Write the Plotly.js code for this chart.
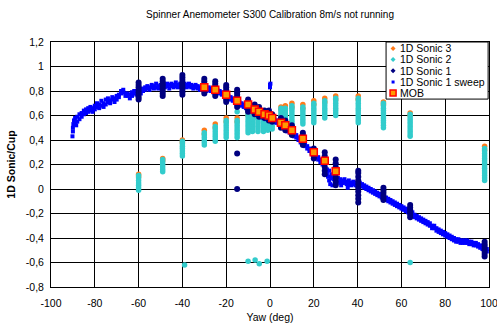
<!DOCTYPE html>
<html>
<head>
<meta charset="utf-8">
<script src="https://cdn.plot.ly/plotly-3.0.1.min.js"></script>
<style>html,body{margin:0;padding:0;background:#fff;}#chart{width:497px;height:330px;}</style>
</head>
<body>
<div id="chart"></div>
<script>
// ---------- data ----------
var xTickVals = [-100,-80,-60,-40,-20,0,20,40,60,80,100];
var xTickText = ["-100","-80","-60","-40","-20","0","20","40","60","80","100"];
var yTickVals = [-0.8,-0.6,-0.4,-0.2,0,0.2,0.4,0.6,0.8,1,1.2];
var yTickText = ["-0,8","-0,6","-0,4","-0,2","0","0,2","0,4","0,6","0,8","1","1,2"];

var seriesNames = ["1D Sonic 3","1D Sonic 2","1D Sonic 1","1D Sonic 1 sweep","MOB"];

// MOB reference points
var mobX = [-30,-25,-20,-15,-10,-7,-5,-2.5,-0.5,1,5,7,10,15,20,25,30];
var mobY = [0.83,0.81,0.77,0.72,0.69,0.65,0.63,0.61,0.60,0.58,0.54,0.52,0.48,0.41,0.30,0.23,0.145];

// 1D Sonic 1 (clusters at fixed yaw: [yaw, values])
var sonic1Clusters = [
  [-60,[0.73,0.75,0.77,0.79,0.81,0.83,0.85,0.87]],
  [-49,[0.76,0.78,0.80,0.82,0.84,0.86,0.88,0.90]],
  [-40,[0.77,0.79,0.81,0.83,0.85,0.87,0.89,0.91,0.93]],
  [-30,[0.78,0.80,0.82,0.84,0.86,0.88,0.90]],
  [-25,[0.76,0.78,0.80,0.82,0.84,0.86,0.88]],
  [-20,[0.71,0.73,0.75,0.77,0.79,0.81,0.83,0.85]],
  [-15,[0.0,0.29,0.67,0.69,0.71,0.73,0.75,0.77,0.79,0.81]],
  [-10,[0.63,0.65,0.67,0.69,0.71,0.73]],
  [-7,[0.61,0.63,0.65,0.67,0.69]],
  [-5,[0.59,0.61,0.63,0.65,0.67]],
  [-2.5,[0.58,0.60,0.62,0.64]],
  [-0.5,[0.56,0.58,0.60,0.62,0.64]],
  [1,[0.55,0.57,0.59,0.61]],
  [5,[0.50,0.52,0.54,0.56,0.58]],
  [7,[0.48,0.50,0.52,0.54,0.56]],
  [10,[0.44,0.46,0.48,0.50,0.52]],
  [15,[0.36,0.38,0.40,0.42,0.44,0.46]],
  [20,[0.25,0.27,0.29,0.31,0.33]],
  [25,[0.12,0.15,0.18,0.21,0.24,0.27,0.30]],
  [30,[0.03,0.06,0.09,0.12,0.15,0.18,0.21,0.24]],
  [40.3,[-0.11,-0.08,-0.05,-0.02,0.01,0.04,0.07,0.10,0.13,0.15]],
  [51.8,[-0.09,-0.07,-0.05,-0.03,-0.01,0.01]],
  [64,[-0.23,-0.21,-0.19,-0.17,-0.15,-0.13]],
  [98,[-0.55,-0.53,-0.51,-0.49,-0.47,-0.45,-0.43]]
];

// 1D Sonic 2
var sonic2Clusters = [
  [-60,[-0.01,0.01,0.03,0.05,0.07,0.09,0.11]],
  [-49,[0.14,0.16,0.18,0.20,0.22,0.24]],
  [-40,[0.27,0.29,0.31,0.33,0.35,0.37,0.39]],
  [-39,[-0.62]],
  [-30,[0.36,0.38,0.40,0.42,0.44,0.46]],
  [-25,[0.39,0.41,0.43,0.45,0.47,0.49,0.51]],
  [-20,[0.42,0.44,0.46,0.48,0.50,0.52,0.54,0.56]],
  [-15,[0.42,0.44,0.46,0.48,0.50,0.52,0.54,0.56,0.63]],
  [-10,[-0.59,0.46,0.48,0.50,0.52,0.54,0.56,0.58,0.60,0.62]],
  [-8,[0.47,0.49,0.51,0.53,0.55,0.57,0.59]],
  [-6.8,[-0.58]],
  [-5.5,[0.47,0.49,0.51,0.53,0.55,0.57,0.59]],
  [-4.9,[-0.61]],
  [-3,[0.47,0.49,0.51,0.53,0.55,0.57,0.59]],
  [-1.3,[-0.59]],
  [-1,[0.48,0.50,0.52,0.54,0.56,0.58]],
  [1,[0.49,0.51,0.53,0.55,0.57]],
  [5,[0.52,0.54,0.56,0.58,0.60,0.62,0.64,0.66]],
  [7,[0.52,0.54,0.56,0.58,0.60,0.62,0.64,0.66]],
  [10,[0.54,0.56,0.58,0.60,0.62,0.64,0.66,0.68]],
  [15,[0.53,0.55,0.57,0.59,0.61,0.63,0.65,0.67]],
  [20,[0.54,0.56,0.58,0.60,0.62,0.64,0.66,0.68,0.70]],
  [25,[0.58,0.60,0.62,0.64,0.66,0.68,0.70,0.72]],
  [30,[0.60,0.62,0.64,0.66,0.68,0.70,0.72,0.74]],
  [40.3,[0.54,0.56,0.58,0.60,0.62,0.64,0.66,0.68,0.70,0.72,0.74]],
  [51.8,[0.50,0.52,0.54,0.56,0.58,0.60,0.62,0.64,0.66,0.68,0.70]],
  [64,[-0.60,0.43,0.45,0.47,0.49,0.51,0.53,0.55,0.57,0.59,0.61]],
  [98,[0.07,0.09,0.11,0.13,0.15,0.17,0.19,0.21,0.23,0.25,0.27,0.29,0.31,0.33]]
];

// 1D Sonic 3 (mostly hidden behind Sonic 2, visible at cluster tops)
var sonic3Clusters = [
  [-60,[0.10,0.12]],[-49,[0.23,0.25]],[-40,[0.38,0.40]],[-30,[0.45,0.48]],
  [-25,[0.50,0.53]],[-20,[0.55,0.58]],[-15,[0.55,0.58]],[-10,[0.60,0.63]],
  [-8,[0.58,0.60]],[-5.5,[0.58,0.60]],[-3,[0.58,0.60]],[-1,[0.57,0.59]],
  [1,[0.56,0.58]],[5,[0.65,0.67]],[7,[0.65,0.68]],[10,[0.67,0.70]],
  [15,[0.66,0.69]],[20,[0.69,0.72]],[25,[0.71,0.74]],[30,[0.73,0.76]],
  [40.3,[0.73,0.76]],[51.8,[0.69,0.71]],[64,[0.60,0.62]],[98,[0.32,0.35]]
];

// 1D Sonic 1 sweep [yaw, value]
var sweepPoints = [
  [-90.2,0.43],[-90,0.47],[-90,0.50],[-89.8,0.53],[-89.5,0.56],[-89,0.58],[-89,0.54],[-88.5,0.52],
  [-88,0.59],[-88,0.55],[-87,0.61],[-87,0.57],[-86,0.62],[-86,0.59],[-85,0.64],[-85,0.61],
  [-84,0.65],[-84,0.62],[-83,0.63],[-83,0.66],[-82,0.67],[-82,0.64],[-81,0.66],[-81,0.63],
  [-80,0.68],[-80,0.65],[-79,0.67],[-79,0.70],[-78,0.66],[-78,0.69],[-77,0.72],[-77,0.68],
  [-76,0.70],[-76,0.67],[-75,0.73],[-75,0.69],[-74,0.71],[-74,0.74],[-73,0.70],[-73,0.72],
  [-72,0.73],[-72,0.75],[-71,0.71],[-71,0.74],[-70,0.76],[-70,0.73],[-69,0.77],[-69,0.75],
  [-68,0.80],[-68,0.78],[-67,0.81],[-67,0.79],[-66,0.78],[-66,0.76],[-65,0.76],[-65,0.78],
  [-64,0.74],[-64,0.77],[-63,0.76],[-63,0.79],[-62,0.78],[-62,0.80],[-61,0.77],[-61,0.80],
  [-60,0.79],[-60,0.81],[-59,0.80],[-59,0.78],[-58,0.82],[-58,0.80],[-57,0.81],[-57,0.83],
  [-56,0.84],[-56,0.82],[-55,0.83],[-55,0.81],[-54,0.85],[-54,0.83],[-53,0.82],[-53,0.84],
  [-52,0.86],[-52,0.83],[-51,0.84],[-51,0.82],[-50,0.85],[-50,0.83],[-49,0.84],[-49,0.82],
  [-48,0.85],[-48,0.83],[-47,0.86],[-47,0.84],[-46,0.82],[-46,0.85],[-45,0.84],[-45,0.86],
  [-44,0.83],[-44,0.85],[-43,0.87],[-43,0.84],[-42,0.85],[-42,0.83],[-41,0.86],[-41,0.84],
  [-40,0.85],[-40,0.87],[-39,0.84],[-39,0.86],[-38,0.83],[-38,0.85],[-37,0.86],[-37,0.84],
  [-36,0.85],[-36,0.83],[-35,0.84],[-35,0.82],[-34,0.85],[-34,0.83],[-33,0.82],[-33,0.84],
  [-32,0.83],[-32,0.81],[-31,0.84],[-31,0.82],[-30,0.83],[-30,0.81],[-29,0.82],[-29,0.80],
  [-28,0.83],[-28,0.81],[-27,0.80],[-27,0.82],[-26,0.81],[-26,0.79],[-25,0.80],[-25,0.82],
  [-24,0.79],[-24,0.81],[-23,0.78],[-23,0.80],[-22,0.79],[-22,0.77],[-21,0.78],[-21,0.76],
  [-20,0.77],[-20,0.75],[-19,0.76],[-19,0.74],[-18,0.75],[-18,0.73],[-17,0.74],[-17,0.72],
  [-16,0.73],[-16,0.71],[-15,0.72],[-15,0.70],[-14,0.71],[-14,0.69],[-13,0.70],[-13,0.68],
  [-12,0.69],[-12,0.67],[-11,0.68],[-11,0.66],[-10,0.67],[-10,0.69],[-9,0.66],[-9,0.64],
  [-8,0.65],[-8,0.63],[-7,0.64],[-7,0.62],[-6,0.63],[-6,0.61],[-5,0.62],[-5,0.60],
  [-4,0.61],[-4,0.59],[-3,0.60],[-3,0.58],[-2,0.59],[-2,0.57],[-1,0.58],[-1,0.60],
  [0,0.57],[0,0.59],[0,0.83],[0,0.85],[0.2,0.86],[1,0.56],[1,0.58],[2,0.55],[2,0.57],
  [3,0.54],[3,0.56],[4,0.53],[4,0.55],[5,0.52],[5,0.54],[6,0.50],[6,0.52],[7,0.49],[7,0.51],
  [8,0.47],[8,0.50],[9,0.46],[9,0.48],[10,0.45],[10,0.47],[11,0.43],[11,0.45],[12,0.42],[12,0.44],
  [13,0.40],[13,0.42],[14,0.38],[14,0.40],[15,0.37],[15,0.39],[16,0.35],[16,0.37],[17,0.33],[17,0.35],
  [18,0.31],[18,0.33],[19,0.29],[19,0.31],[20,0.28],[20,0.30],[21,0.26],[21,0.28],[22,0.24],[22,0.26],
  [23,0.22],[23,0.24],[24,0.20],[24,0.22],[25,0.18],[25,0.21],[26,0.16],[26,0.13],[26.5,0.10],
  [27,0.15],[27,0.07],[27.5,0.04],[28,0.12],[28,0.09],[28.5,0.03],[29,0.11],[29,0.08],
  [30,0.10],[30,0.07],[31,0.09],[31,0.06],[32,0.08],[32,0.05],[32.5,0.03],[33,0.07],[33,0.05],
  [34,0.08],[34,0.05],[35,0.06],[35,0.04],[35.5,0.01],[36,0.07],[36,0.04],[37,0.05],[37,0.03],
  [38,0.06],[38,0.04],[39,0.05],[39,0.03],[40,0.04],[40,0.02],[41,0.05],[41,0.03],[42,0.04],[42,0.02],
  [43,0.03],[43,0.01],[44,0.02],[44,0.00],[45,0.01],[45,-0.01],[46,0.00],[46,-0.02],[47,-0.01],[47,-0.03],
  [48,-0.02],[48,-0.04],[49,-0.03],[49,-0.05],[50,-0.04],[50,-0.06],[51,-0.05],[51,-0.07],[52,-0.06],[52,-0.08],
  [53,-0.07],[53,-0.09],[54,-0.08],[54,-0.10],[55,-0.09],[55,-0.11],[56,-0.10],[56,-0.12],[57,-0.11],[57,-0.13],
  [58,-0.12],[58,-0.14],[59,-0.13],[59,-0.15],[60,-0.14],[60,-0.16],[61,-0.15],[61,-0.17],[62,-0.16],[62,-0.18],
  [63,-0.17],[63,-0.19],[64,-0.18],[64,-0.20],[65,-0.19],[65,-0.21],[66,-0.21],[66,-0.23],[67,-0.22],[67,-0.24],
  [68,-0.23],[68,-0.25],[69,-0.24],[69,-0.26],[70,-0.25],[70,-0.27],[71,-0.26],[71,-0.28],[72,-0.27],[72,-0.29],
  [73,-0.28],[73,-0.30],[74,-0.30],[74,-0.32],[75,-0.30],[75,-0.32],[76,-0.32],[76,-0.34],[77,-0.33],[77,-0.35],
  [78,-0.34],[78,-0.36],[79,-0.35],[79,-0.37],[80,-0.36],[80,-0.38],[81,-0.37],[81,-0.39],[82,-0.38],[82,-0.40],
  [83,-0.39],[83,-0.41],[84,-0.40],[84,-0.42],[85,-0.41],[85,-0.43],[86,-0.41],[86,-0.43],[87,-0.42],[87,-0.44],
  [88,-0.42],[88,-0.44],[89,-0.42],[89,-0.44],[90,-0.42],[90,-0.44],[91,-0.43],[91,-0.45],[92,-0.43],[92,-0.45],
  [93,-0.44],[93,-0.46],[94,-0.44],[94,-0.46],[95,-0.45],[95,-0.47],[96,-0.46],[96,-0.48],[97,-0.47],[97,-0.49],
  [98,-0.48],[98,-0.50],[99,-0.49],[99,-0.51]
];

// ---------- build traces ----------
function flatten(clusters){
  var xs=[],ys=[];
  clusters.forEach(function(c){ c[1].forEach(function(v){ xs.push(c[0]); ys.push(v); }); });
  return {x:xs,y:ys};
}
var s1 = flatten(sonic1Clusters), s2 = flatten(sonic2Clusters), s3 = flatten(sonic3Clusters);

var colSonic3 = '#FF7A1A', colSonic2 = '#33CCCC', colSonic1 = '#000080', colSweep = '#0000FF';
var colMobFill = '#FF9900', colMobLine = '#FF0000';
var FONT = 'Liberation Sans, Arial, Helvetica, sans-serif';

var traces = [
  {type:'scatter',mode:'markers',name:seriesNames[0],x:s3.x,y:s3.y,
   marker:{symbol:'circle',size:5.5,color:colSonic3},hoverinfo:'skip'},
  {type:'scatter',mode:'markers',name:seriesNames[1],x:s2.x,y:s2.y,
   marker:{symbol:'circle',size:5.5,color:colSonic2},hoverinfo:'skip'},
  {type:'scatter',mode:'markers',name:seriesNames[3],
   x:sweepPoints.map(function(p){return p[0];}),y:sweepPoints.map(function(p){return p[1];}),
   marker:{symbol:'square',size:4,color:colSweep},hoverinfo:'skip'},
  {type:'scatter',mode:'markers',name:seriesNames[2],x:s1.x,y:s1.y,
   marker:{symbol:'circle',size:6,color:colSonic1},hoverinfo:'skip'},
  {type:'scatter',mode:'markers',name:seriesNames[4],x:mobX,y:mobY,
   marker:{symbol:'square',size:7,color:colMobFill,line:{color:colMobLine,width:1.5}},hoverinfo:'skip'}
];

// ---------- custom legend (shapes + annotations) ----------
var legX0 = 0.765, legX1 = 0.998, legY0 = 0.767, legY1 = 1.0;
var legRows = [0.9735,0.9286,0.8829,0.8367,0.7918];
var symX = 0.781, txtX = 0.793;
var shapes = [
  {type:'rect',xref:'paper',yref:'paper',x0:legX0,x1:legX1,y0:legY0,y1:legY1,
   fillcolor:'#FFFFFF',line:{color:'#000000',width:1},layer:'above'}
];
function diamondShape(y,color){
  return {type:'path',xref:'paper',yref:'paper',xsizemode:'pixel',ysizemode:'pixel',
    xanchor:symX,yanchor:y,path:'M0,2.5 L2.5,0 L0,-2.5 L-2.5,0 Z',
    fillcolor:color,line:{width:0},layer:'above'};
}
shapes.push(diamondShape(legRows[0],colSonic3));
shapes.push(diamondShape(legRows[1],colSonic2));
shapes.push(diamondShape(legRows[2],colSonic1));
shapes.push({type:'rect',xref:'paper',yref:'paper',xsizemode:'pixel',ysizemode:'pixel',
  xanchor:symX,yanchor:legRows[3],x0:-1.5,x1:1.5,y0:-1.5,y1:1.5,
  fillcolor:colSweep,line:{width:0},layer:'above'});
shapes.push({type:'rect',xref:'paper',yref:'paper',xsizemode:'pixel',ysizemode:'pixel',
  xanchor:symX,yanchor:legRows[4],x0:-3,x1:3,y0:-3,y1:3,
  fillcolor:colMobFill,line:{color:colMobLine,width:1.5},layer:'above'});

var legOrder = [0,1,2,3,4];
var annotations = legOrder.map(function(i,k){
  return {xref:'paper',yref:'paper',x:txtX,y:legRows[k],xanchor:'left',yanchor:'middle',
    text:seriesNames[i],showarrow:false,font:{family:FONT,size:10.5,color:'#000'}};
});

var axisCommon = {
  showgrid:true,gridcolor:'#000000',gridwidth:1,showline:true,linecolor:'#000000',linewidth:1,
  mirror:true,zeroline:false,ticks:'',tickfont:{family:FONT,size:10.5,color:'#000'},fixedrange:true,
  ticklabeloverflow:'allow'
};

var layout = {
  width:497,height:330,
  margin:{l:51,r:8,t:42,b:43,pad:0},
  paper_bgcolor:'#FFFFFF',plot_bgcolor:'#FFFFFF',
  showlegend:false,
  font:{family:FONT,color:'#000'},
  title:{text:'Spinner Anemometer S300 Calibration 8m/s not running',
    font:{family:FONT,size:10,color:'#000'},xref:'paper',x:0.5,xanchor:'center',
    yref:'container',y:1-14/330,yanchor:'middle'},
  xaxis:Object.assign({},axisCommon,{range:[-100,100],tickmode:'array',tickvals:xTickVals,ticktext:xTickText,
    ticklabelstandoff:6,
    title:{text:'Yaw (deg)',font:{family:FONT,size:10.5,color:'#000'},standoff:6}}),
  yaxis:Object.assign({},axisCommon,{range:[-0.8,1.2],tickmode:'array',tickvals:yTickVals,ticktext:yTickText,
    ticklabelstandoff:4,
    title:{text:'<b>1D Sonic/Cup</b>',font:{family:FONT,size:10.5,color:'#000'},standoff:8}}),
  shapes:shapes,
  annotations:annotations
};

Plotly.newPlot('chart',traces,layout,{displayModeBar:false,staticPlot:true});
</script>
</body>
</html>
